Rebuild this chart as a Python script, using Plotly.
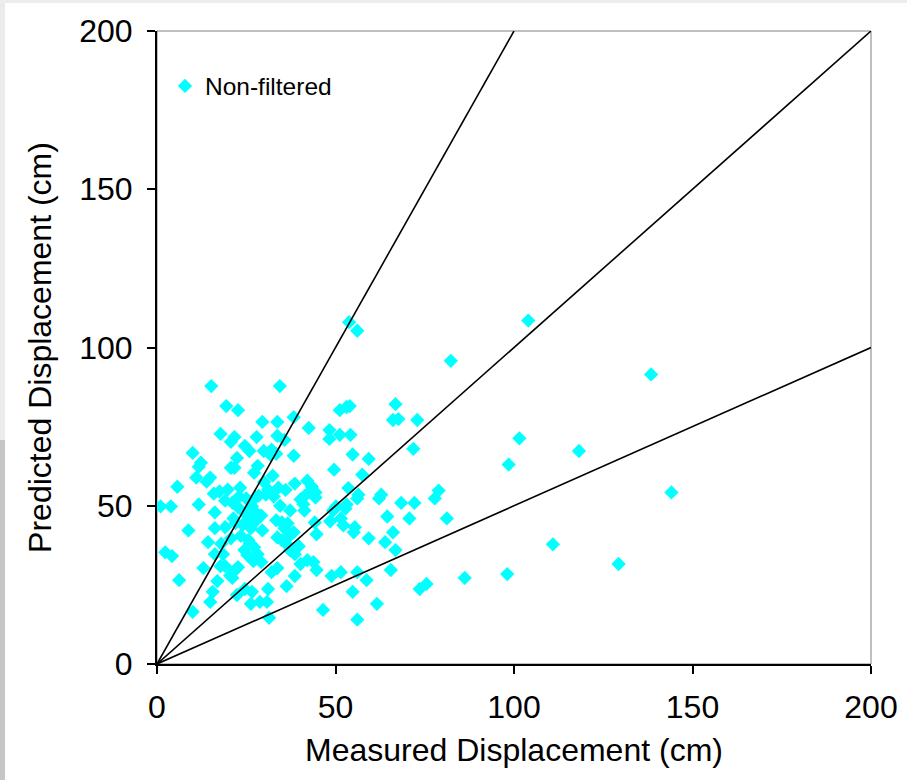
import plotly.graph_objects as go

# Non-filtered data (measured, predicted), cm
measured = [53.8, 56.1, 104.0, 82.3, 138.4, 101.5, 118.2, 98.5, 144.1, 110.9, 129.3, 98.1, 86.2, 81.2,
            78.9, 77.8, 72.1, 68.4, 70.7, 71.8, 72.9, 66.8, 66.1, 67.6, 75.5, 73.6, 61.6, 56.1, 46.5,
            54.8, 58.7, 65.5, 56.1, 48.9, 51.5, 66.8, 66.1, 64.5, 63.9, 59.3, 55.1, 55.4, 62.2, 62.8,
            57.5, 59.3, 54.8, 54.2, 51.2, 48.3, 48.3, 51.2, 53.1, 54.0, 49.6, 53.6, 56.4, 56.1, 53.1,
            49.3, 50.1, 48.5, 51.5, 52.2, 52.8, 44.7, 44.2, 44.7, 43.8, 42.1, 40.2, 38.6, 36.3, 39.7,
            38.6, 37.3, 36.6, 35.0, 33.7, 37.3, 38.3, 36.6, 35.7, 33.4, 37.3, 41.3, 40.2, 41.5, 43.1,
            42.1, 43.4, 44.4, 44.4, 38.6, 38.3, 42.5, 38.3, 33.7, 34.4, 35.7, 33.7, 33.4, 32.1, 31.8,
            29.9, 29.5, 27.9, 28.2, 27.2, 25.9, 24.6, 22.7, 19.4, 15.2, 17.8, 21.7, 20.7, 22.4, 21.7,
            20.7, 10.0, 12.3, 11.7, 11.0, 13.9, 14.9, 5.7, 1.0, 3.9, 11.7, 8.8, 2.3, 4.2, 6.2,
            10.0, 14.9, 15.6, 16.9, 13.0, 16.2, 14.3, 16.2, 16.2, 15.9, 17.5, 19.1, 19.8, 19.1, 18.5,
            19.1, 17.8, 20.7, 21.4, 22.7, 23.0, 21.1, 23.3, 25.0, 24.6, 25.9, 26.3, 25.6, 25.3, 21.9,
            21.1, 22.7, 22.4, 24.6, 26.6, 26.3, 28.8, 30.8, 31.1, 31.4, 32.1, 33.7, 29.2, 28.2, 27.2,
            29.5, 27.6, 26.6, 28.5, 30.5, 31.1, 32.7, 34.0, 32.4, 35.0, 29.2, 27.6, 24.0, 23.5, 26.0,
            22.0, 30.0, 34.5, 27.0, 24.5, 18.0, 20.5, 28.0, 36.0, 41.0]
predicted = [108.0, 105.3, 108.5, 95.8, 91.5, 71.3, 67.3, 63.0, 54.2, 37.8, 31.6, 28.4, 27.2, 46.0,
             54.8, 52.3, 50.9, 50.9, 46.0, 68.0, 77.1, 82.1, 77.1, 77.4, 25.3, 23.7, 19.0, 14.0, 17.1,
             22.8, 26.5, 29.7, 29.0, 27.8, 29.0, 36.0, 41.6, 46.6, 38.5, 39.7, 41.6, 43.2, 52.3, 53.5,
             59.8, 64.8, 66.2, 72.4, 72.4, 73.9, 71.1, 80.2, 81.2, 81.5, 61.4, 55.6, 53.5, 52.3, 50.4,
             48.5, 49.8, 45.1, 46.0, 43.8, 49.1, 41.0, 44.7, 29.7, 32.2, 32.8, 31.6, 27.8, 24.6, 37.2,
             34.7, 35.9, 37.5, 39.1, 40.0, 40.7, 41.6, 44.4, 42.9, 45.4, 48.5, 48.5, 52.0, 53.2, 54.8,
             57.9, 56.0, 52.6, 54.2, 57.0, 65.8, 74.6, 78.0, 76.5, 87.8, 70.8, 72.1, 66.4, 67.7, 66.1,
             67.3, 76.5, 71.7, 62.6, 60.4, 67.3, 68.9, 80.2, 81.5, 87.8, 72.7, 71.7, 70.2, 65.1, 62.0,
             62.0, 66.7, 63.6, 62.3, 58.9, 57.6, 58.9, 56.0, 49.8, 49.8, 50.4, 42.2, 35.3, 34.1, 26.5,
             16.5, 19.6, 22.8, 26.2, 30.3, 34.7, 38.5, 42.9, 47.9, 53.8, 54.5, 51.6, 55.1, 43.2, 34.7,
             30.9, 30.9, 39.7, 46.0, 49.5, 52.9, 51.0, 55.7, 52.3, 47.6, 45.7, 42.9, 39.1, 34.4, 29.7,
             27.2, 30.6, 21.8, 23.7, 22.8, 19.0, 19.6, 19.6, 23.7, 14.6, 29.0, 30.3, 32.2, 34.7, 36.9,
             42.2, 45.1, 49.8, 53.2, 53.5, 55.1, 52.9, 55.7, 59.5, 44.7, 46.9, 52.6, 44.0, 40.5, 38.0,
             44.5, 57.5, 50.0, 32.5, 36.0, 38.0, 28.0, 47.5, 55.0, 50.5]

# Reference lines (slope factors)
ref_slopes = [2.0, 1.0, 0.5]
axis_max = 200
tick_vals = [0, 50, 100, 150, 200]

FONT = "Liberation Sans, Arial, sans-serif"

fig = go.Figure()
fig.add_trace(go.Scatter(
    x=measured, y=predicted, mode="markers", name="Non-filtered",
    marker=dict(symbol="diamond", size=11, color="#00FFFF", line=dict(width=0)),
))
for s in ref_slopes:
    xe = min(axis_max, axis_max / s)
    fig.add_trace(go.Scatter(
        x=[0, xe], y=[0, xe * s], mode="lines", showlegend=False,
        line=dict(color="black", width=1.6), hoverinfo="skip",
    ))

W, H = 907, 780
L, R, T, B = 157, 36, 31, 116
pw, ph = W - L - R, H - T - B


def px2paper_x(px):
    return (px - L) / pw


def px2paper_y(py):
    return (H - B - py) / ph


shapes = [
    dict(type="rect", xref="paper", yref="paper", x0=0, x1=1, y0=0, y1=1,
         line=dict(color="#808080", width=1), layer="below"),
    dict(type="rect", xref="paper", yref="paper", x0=px2paper_x(0), x1=px2paper_x(5),
         y0=px2paper_y(440), y1=px2paper_y(0), fillcolor="#ebebeb", line=dict(width=0), layer="below"),
    dict(type="rect", xref="paper", yref="paper", x0=px2paper_x(0), x1=px2paper_x(5),
         y0=px2paper_y(780), y1=px2paper_y(440), fillcolor="#c6c6c6", line=dict(width=0), layer="below"),
    dict(type="rect", xref="paper", yref="paper", x0=px2paper_x(0), x1=px2paper_x(907),
         y0=px2paper_y(3), y1=px2paper_y(0), fillcolor="#ededed", line=dict(width=0), layer="below"),
]

axis_common = dict(
    range=[0, axis_max], tickvals=tick_vals, showgrid=False, zeroline=False,
    showline=True, linecolor="black", linewidth=2, ticks="outside", ticklen=8,
    tickwidth=2, tickcolor="black", tickfont=dict(family=FONT, size=32, color="black"),
    title_font=dict(family=FONT, size=32, color="black"),
)

fig.update_layout(
    width=W, height=H, margin=dict(l=L, r=R, t=T, b=B, autoexpand=False),
    paper_bgcolor="white", plot_bgcolor="white",
    xaxis=dict(axis_common, ticklabelstandoff=6,
               title=dict(text="Measured Displacement (cm)", standoff=14)),
    yaxis=dict(axis_common, ticklabelstandoff=8,
               title=dict(text="Predicted Displacement (cm)", standoff=18)),
    legend=dict(x=px2paper_x(165), y=px2paper_y(86), xanchor="left", yanchor="middle",
                bgcolor="rgba(0,0,0,0)", font=dict(family=FONT, size=24.5, color="black"),
                itemsizing="trace"),
    shapes=shapes,
    showlegend=True,
)

fig.write_html("out.html")
